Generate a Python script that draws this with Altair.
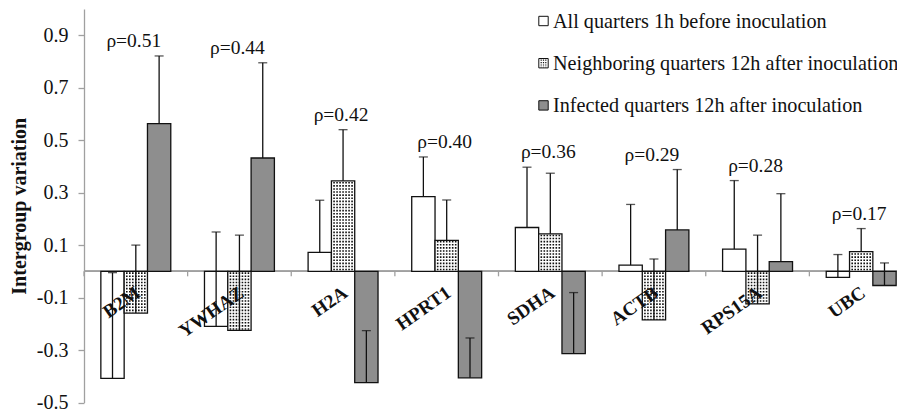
import altair as alt
import pandas as pd

# ---------------- data ----------------
genes = ["B2M", "YWHAZ", "H2A", "HPRT1", "SDHA", "ACTB", "RPS15A", "UBC"]
rho_labels = ["ρ=0.51", "ρ=0.44", "ρ=0.42", "ρ=0.40", "ρ=0.36", "ρ=0.29", "ρ=0.28", "ρ=0.17"]
series = [
    "All quarters 1h before inoculation",
    "Neighboring quarters 12h after inoculation",
    "Infected quarters 12h after inoculation",
]
before_vals = [-0.408, -0.210, 0.072, 0.285, 0.167, 0.024, 0.085, -0.023]
before_err = [0.403, 0.360, 0.199, 0.151, 0.230, 0.231, 0.261, 0.087]
neigh_vals = [-0.159, -0.225, 0.345, 0.118, 0.143, -0.185, -0.124, 0.075]
neigh_err = [0.259, 0.363, 0.195, 0.154, 0.231, 0.232, 0.262, 0.088]
infected_vals = [0.563, 0.432, -0.424, -0.406, -0.314, 0.158, 0.037, -0.054]
infected_err = [0.258, 0.363, 0.198, 0.152, 0.233, 0.230, 0.259, 0.086]
fill_colors = ["#ffffff", "#ffffff", "#8e8e8e"]

rows = []
for s, vals, errs in zip(series, [before_vals, neigh_vals, infected_vals],
                         [before_err, neigh_err, infected_err]):
    for g, v, e in zip(genes, vals, errs):
        rows.append({"gene": g, "series": s, "value": v, "top": v + e, "zero": 0.0})
df = pd.DataFrame(rows)
neigh_df = df[df["series"] == series[1]]
gene_df = pd.DataFrame({"gene": genes, "zero": [0.0] * len(genes)})
rho_df = pd.DataFrame({
    "gene": genes,
    "rho": rho_labels,
    "ymax": df.groupby("gene")["top"].max().reindex(genes).values,
})

FONT = "Liberation Serif, Times New Roman, serif"
INK = "#111111"
AXIS_GRAY = "#a0a0a0"
H = 393.5

YS = alt.Scale(domain=[-0.5, 1.0], nice=False, zero=False)
XS = alt.Scale(domain=genes, range=[0, 829], paddingInner=0, paddingOuter=0)
X = alt.X("gene:N", sort=genes, scale=XS, axis=None)
XO = alt.XOffset("series:N", sort=series,
                 scale=alt.Scale(domain=series, paddingInner=0, paddingOuter=0.723))

yaxis = alt.Axis(
    title="Intergroup variation",
    values=[-0.5, -0.3, -0.1, 0.1, 0.3, 0.5, 0.7, 0.9],
    labelExpr="(datum.value < 0 ? '-' : '') + format(abs(datum.value), '.1f')",
    grid=False,
    domainColor=AXIS_GRAY, domainWidth=1.3,
    tickColor=AXIS_GRAY, tickWidth=1.3, tickSize=6,
    labelPadding=10, labelFont=FONT, labelFontSize=20, labelColor=INK,
    titleFont=FONT, titleFontSize=20, titleFontWeight="bold", titleColor=INK,
    titleX=-58.8, titleY=H / 2, titleBaseline="alphabetic", titleAlign="center",
)


def Y(field):
    return alt.Y(field, scale=YS, axis=yaxis)


zero_line = alt.Chart(gene_df).mark_rule(color=AXIS_GRAY, strokeWidth=1.3).encode(
    y=Y("zero:Q")
)

bticks = alt.Chart(gene_df).mark_rule(color=AXIS_GRAY, strokeWidth=1.3).encode(
    x=alt.X("gene:N", sort=genes, scale=XS, axis=None, bandPosition=0),
    y=Y("zero:Q"),
    y2=alt.datum(-0.019),
)

bars = alt.Chart(df).mark_bar(stroke=INK, strokeWidth=1.3).encode(
    x=X, xOffset=XO,
    y=Y("value:Q"),
    y2="zero:Q",
    fill=alt.Fill("series:N", scale=alt.Scale(domain=series, range=fill_colors), legend=None),
)

dot_layers = [
    alt.Chart(neigh_df).mark_rule(xOffset=o, strokeDash=[1.6, 1.5], strokeDashOffset=-1.0,
                                  strokeWidth=1.6, color=INK).encode(
        x=X,
        y=Y("zero:Q"),
        y2="value:Q",
    )
    for o in [-9, -6, -3, 0, 3, 6, 9]
]

err_lines = alt.Chart(df).mark_rule(color=INK, strokeWidth=1.3).encode(
    x=X, xOffset=XO,
    y=Y("value:Q"),
    y2="top:Q",
)
err_caps = alt.Chart(df).mark_tick(color=INK, thickness=1.3, size=9).encode(
    x=X, xOffset=XO,
    y=Y("top:Q"),
)

rho_text = alt.Chart(rho_df).mark_text(
    font=FONT, fontSize=19.5, baseline="middle", yOffset=-15, xOffset=-2, color=INK
).encode(x=X, y=Y("ymax:Q"), text="rho:N")

cat_labels = alt.Chart(gene_df).mark_text(
    angle=325, align="right", baseline="top", font=FONT, fontSize=19,
    fontWeight="bold", color=INK, xOffset=-3, yOffset=12
).encode(x=X, y=Y("zero:Q"), text="gene:N")

# ---------------- legend ----------------
LX = 459.5
legend_layers = []
for i, (s, c) in enumerate(zip(series, fill_colors)):
    ld = pd.DataFrame({"label": [s]})
    cy = 12.0 + 42.2 * i
    legend_layers.append(
        alt.Chart(ld).mark_square(size=88, fill=c, stroke=INK, strokeWidth=1, opacity=1).encode(
            x=alt.value(LX), y=alt.value(cy)
        )
    )
    if i == 1:
        for dx in [-2.3, 0.0, 2.3]:
            legend_layers.append(
                alt.Chart(ld).mark_rule(strokeDash=[1.2, 1.2], strokeWidth=1.2, color=INK).encode(
                    x=alt.value(LX + dx), x2=alt.value(LX + dx),
                    y=alt.value(cy - 3.6), y2=alt.value(cy + 4.0),
                )
            )
    legend_layers.append(
        alt.Chart(ld).mark_text(align="left", baseline="alphabetic", font=FONT,
                                fontSize=20.2, color=INK).encode(
            x=alt.value(LX + 9.5), y=alt.value(cy + 6.6), text="label:N"
        )
    )

chart = alt.layer(
    zero_line, bticks, bars, *dot_layers, err_lines, err_caps, rho_text, cat_labels,
    *legend_layers,
).properties(
    width=813, height=H,
    padding={"left": 76, "top": 1, "right": 0, "bottom": 10},
    autosize=alt.AutoSizeParams(type="none"),
).configure_view(strokeWidth=0)

chart.save("out.html", embed_options={"renderer": "svg", "actions": False})
